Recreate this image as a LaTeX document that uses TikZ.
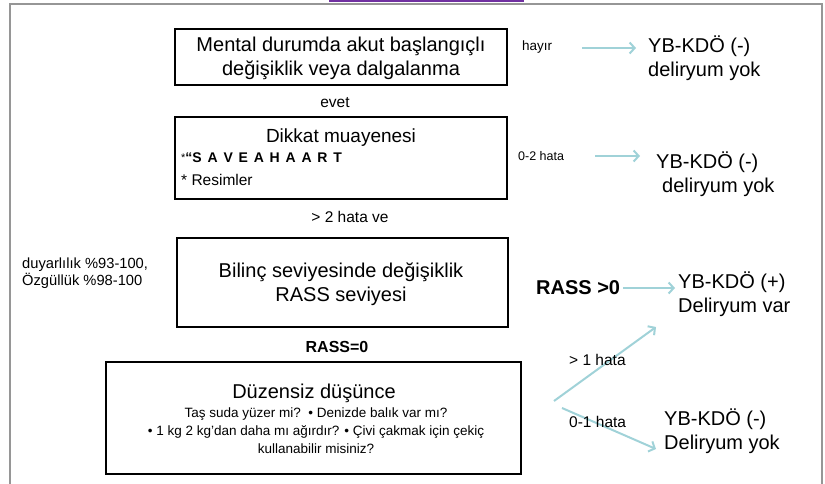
\documentclass[tikz,border=0pt]{standalone}
\usepackage{fontspec}
\setmainfont{Liberation Sans}
\usetikzlibrary{arrows.meta}
\definecolor{arrowteal}{RGB}{160,210,216}
\definecolor{framegray}{RGB}{150,150,150}
\definecolor{purpleedge}{RGB}{112,48,160}
\definecolor{purplefill}{RGB}{226,214,238}
\newcommand{\fs}[2]{\fontsize{#1}{#2}\selectfont}
\newcommand{\lsp}{\hspace{5.8pt}}
\tikzset{
  box/.style={draw=black, line width=2pt, rectangle, inner sep=0pt},
  lbl/.style={inner sep=0pt, align=center},
  res/.style={inner sep=0pt, align=left, anchor=west, font=\fs{20}{24}},
  small/.style={inner sep=0pt, font=\fs{12.5}{15}},
  mid/.style={inner sep=0pt, font=\fs{15.5}{18}},
  tealarrow/.style={draw=arrowteal, line width=2pt, -{Straight Barb[length=5pt,width=11pt,line width=2pt]}}
}
\begin{document}
\begin{tikzpicture}[x=1pt,y=-1pt]
\useasboundingbox (0,0) rectangle (825,484);
% frame
\draw[framegray, line width=2pt] (10,500) -- (10,4) -- (822,4) -- (822,500);
\draw[purpleedge, line width=2pt, fill=purplefill] (330,-10) rectangle (523,1.5);

% box 1
\node[box, minimum width=332pt, minimum height=56pt] (b1) at (341,57) {};
\node[lbl, font=\fs{20}{24}] (t1) at (341,58) {Mental durumda akut başlangıçlı\\değişiklik veya dalgalanma};
\node[small, anchor=west, font=\fs{13.5}{15}] (hayir) at (522,47) {hayır};
\coordinate (a1s) at (582,48);
\coordinate (a1e) at (636,48);
\draw[tealarrow] (a1s) -- (a1e);
\node[res] (r1) at (648,58) {YB-KDÖ (-)\\deliryum yok};

\node[mid] (evet) at (335,103) {evet};

% box 2
\node[box, minimum width=332pt, minimum height=82pt] (b2) at (341,158) {};
\node[lbl, font=\fs{19}{22}] (t2) at (341,138) {Dikkat muayenesi};
\node[inner sep=0pt, anchor=west, font=\fs{14}{16}] (t2b) at (181,158) {\raisebox{1pt}{\fs{11}{13}*}\textbf{“S\lsp A\lsp V\lsp E\lsp A\lsp H\lsp A\lsp A\lsp R\lsp T}};
\node[inner sep=0pt, anchor=west, font=\fs{15.5}{18}] (t2c) at (181,180) {* Resimler};
\node[small, anchor=west] (h02) at (518,156) {0-2 hata};
\coordinate (a2s) at (595,156);
\coordinate (a2e) at (640,156);
\draw[tealarrow] (a2s) -- (a2e);
\node[res] (r2) at (656,174) {YB-KDÖ (-)\\\hspace*{6pt}deliryum yok};

\node[mid] (h2) at (350,217) {> 2 hata ve};

\node[inner sep=0pt, anchor=west, align=left, font=\fs{14.7}{17}] (duy) at (22,273) {duyarlılık \%93-100,\\Özgüllük \%98-100};

% box 3
\node[box, minimum width=331pt, minimum height=89pt] (b3) at (342.5,282.5) {};
\node[lbl, font=\fs{20}{24}] (t3) at (341,284) {Bilinç seviyesinde değişiklik\\RASS seviyesi};

\node[inner sep=0pt, font=\bfseries\fs{16}{18}] (rass0) at (337,347) {RASS=0};

% box 4
\node[box, minimum width=415pt, minimum height=112pt] (b4) at (313.5,418) {};
\node[lbl, font=\fs{20}{24}] (t4) at (314,393) {Düzensiz düşünce};
\node[lbl, font=\fs{13.5}{18}] (t4b) at (316,431) {Taş suda yüzer mi?\ \ • Denizde balık var mı?\\• 1 kg 2 kg’dan daha mı ağırdır? • Çivi çakmak için çekiç\\kullanabilir misiniz?};

% right side
\node[inner sep=0pt, anchor=west, font=\bfseries\fs{20}{24}] (rassg) at (536,288) {RASS >0};
\coordinate (a3s) at (623,288);
\coordinate (a3e) at (675,288);
\draw[tealarrow] (a3s) -- (a3e);
\node[res] (r3) at (678,294) {YB-KDÖ (+)\\Deliryum var};

\coordinate (a4s) at (554,401);
\coordinate (a4e) at (656,327);
\draw[tealarrow] (a4s) -- (a4e);
\node[mid, anchor=west] (h1) at (569,360) {> 1 hata};

\coordinate (a5s) at (562,408);
\coordinate (a5e) at (656,449);
\draw[tealarrow] (a5s) -- (a5e);
\node[mid, anchor=west] (h01) at (569,422) {0-1 hata};

\node[res] (r4) at (664,431) {YB-KDÖ (-)\\Deliryum yok};
\end{tikzpicture}
\end{document}
